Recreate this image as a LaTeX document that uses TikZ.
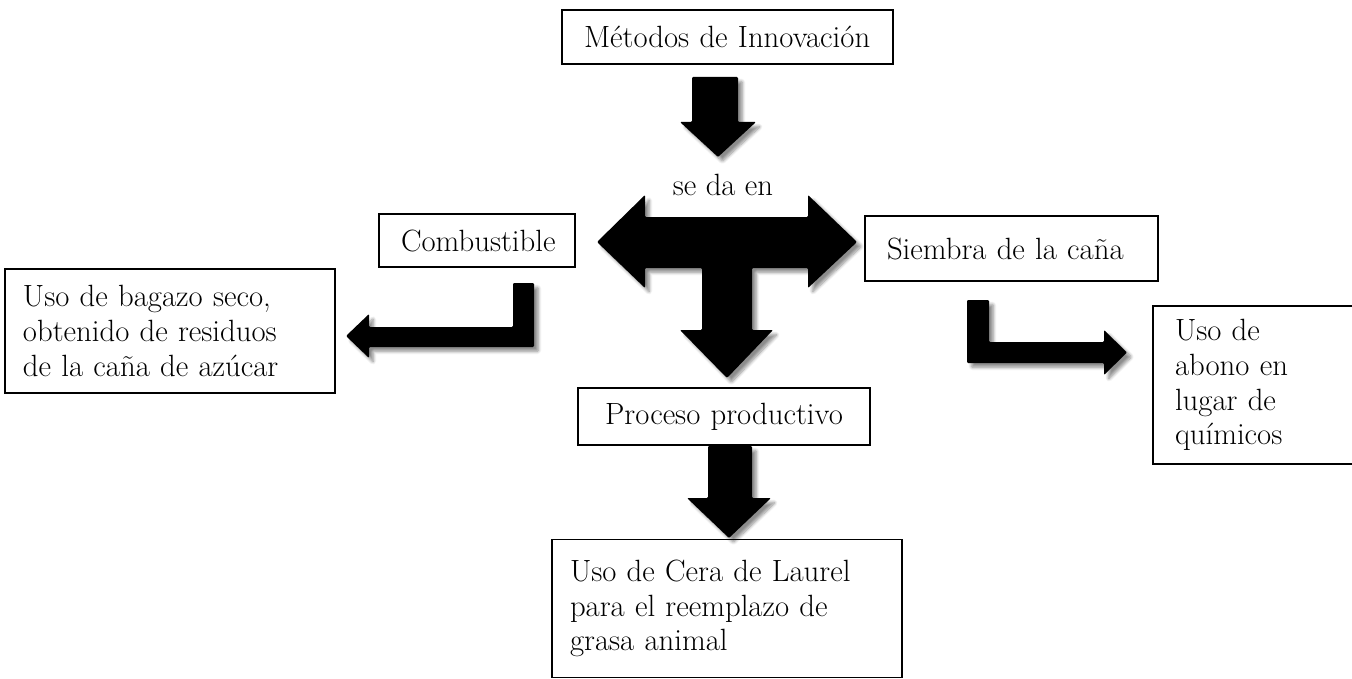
\documentclass[tikz,border=0pt]{standalone}
\usepackage{fontspec}
\usetikzlibrary{shadows.blur}

\begin{document}
\begin{tikzpicture}[x=0.02cm,y=-0.02cm]
\tikzstyle{every node}=[font=\fontsize{17.5}{19.8}\selectfont]
\tikzstyle{caja}=[draw, line width=0.9pt, rectangle, inner xsep=0.44cm, inner ysep=0pt, align=left]
\tikzstyle{flecha}=[fill=black, rounded corners=0.6pt, blur shadow={shadow xshift=2.5pt, shadow yshift=-2.5pt, shadow blur steps=8, shadow opacity=45}]
\useasboundingbox (0,0) rectangle (1352,679);
\node (metodos) [caja, minimum width=331*0.02cm, minimum height=54*0.02cm, text width=331*0.02cm-0.88cm] at (727.5,37) {Métodos de Innovación};
\node (combust) [caja, minimum width=196*0.02cm, minimum height=53*0.02cm, text width=196*0.02cm-0.88cm] at (477,240.5) {Combustible};
\node (siembra) [caja, minimum width=293*0.02cm, minimum height=65*0.02cm, text width=293*0.02cm-0.88cm] at (1011.5,248.5) {Siembra de la caña};
\node (bagazo) [caja, inner xsep=0.36cm, minimum width=330*0.02cm, minimum height=124*0.02cm, text width=330*0.02cm-0.72cm] at (170,331) {Uso de bagazo seco,\\obtenido de residuos\\de la caña de azúcar};
\node (abono) [caja, minimum width=207*0.02cm, minimum height=158*0.02cm, text width=207*0.02cm-0.88cm] at (1256.5,385) {Uso de\\abono en\\lugar de\\químicos};
\node (proceso) [caja, align=center, minimum width=292*0.02cm, minimum height=57*0.02cm, text width=292*0.02cm-0.88cm] at (724,416.5) {Proceso productivo};
\node (cera) [caja, inner xsep=0.36cm, minimum width=350*0.02cm, minimum height=138*0.02cm, text width=350*0.02cm-0.72cm] at (727,608.5) {Uso de Cera de Laurel\\para el reemplazo de\\grasa animal};
\node (seda) at (723,185) {se da en};
% flechas de bloque
\fill[flecha] (692,77) -- (738,77) -- (738,122) -- (756,122) -- (718,157) -- (680,122) -- (692,122) -- cycle;
\fill[flecha] (597,242) -- (645,195) -- (645,217) -- (808,217) -- (808,195) -- (857,242) -- (808,288) -- (808,268) -- (752,268) -- (752,330) -- (773,330) -- (727,378) -- (680,330) -- (702,330) -- (702,268) -- (645,268) -- (645,288) -- cycle;
\fill[flecha] (534,283) -- (534,347) -- (369,347) -- (369,358) -- (346,336) -- (369,314) -- (369,327) -- (513,327) -- (513,283) -- cycle;
\fill[flecha] (967,300) -- (989,300) -- (989,342) -- (1104,342) -- (1104,330) -- (1127,352.5) -- (1104,375) -- (1104,363) -- (967,363) -- cycle;
\fill[flecha] (708,446) -- (752,446) -- (752,498) -- (771,498) -- (729,538) -- (687,498) -- (708,498) -- cycle;
\end{tikzpicture}
\end{document}
